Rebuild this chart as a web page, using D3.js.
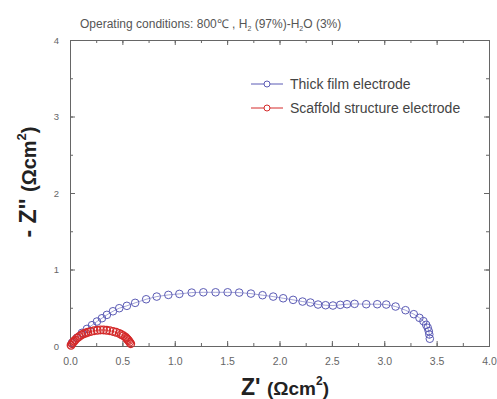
<!DOCTYPE html>
<html>
<head>
<meta charset="utf-8">
<script src="https://cdn.jsdelivr.net/npm/d3@7/dist/d3.min.js"></script>
<style>
  body { margin: 0; background: #fff; }
  text { font-family: "Liberation Sans", Arial, sans-serif; }
</style>
</head>
<body>
<div id="chart"></div>
<script>
const width = 497;
const height = 399;
const margins = { top: 40, right: 8, bottom: 53, left: 70 };

// Thick film electrode, Z' (Ωcm²)
const thickX = [0.019, 0.066, 0.114, 0.162, 0.21, 0.257, 0.305, 0.352, 0.41, 0.47, 0.543, 0.622, 0.727, 0.828, 0.939, 1.044, 1.162, 1.273, 1.39, 1.505, 1.615, 1.727, 1.838, 1.94, 2.035, 2.13, 2.22, 2.295, 2.368, 2.44, 2.51, 2.58, 2.644, 2.717, 2.828, 2.933, 3.019, 3.108, 3.203, 3.282, 3.336, 3.374, 3.40, 3.415, 3.425, 3.43, 3.435];
// Thick film electrode, -Z'' (Ωcm²)
const thickY = [0.042, 0.107, 0.172, 0.224, 0.272, 0.32, 0.363, 0.407, 0.454, 0.494, 0.525, 0.564, 0.611, 0.646, 0.668, 0.681, 0.698, 0.702, 0.702, 0.702, 0.698, 0.685, 0.664, 0.646, 0.624, 0.603, 0.581, 0.568, 0.542, 0.533, 0.529, 0.538, 0.546, 0.551, 0.546, 0.546, 0.542, 0.516, 0.468, 0.416, 0.368, 0.325, 0.277, 0.238, 0.194, 0.151, 0.095];

// Scaffold structure electrode
const scaffoldX = [0.01, 0.02, 0.03, 0.04, 0.05, 0.07, 0.09, 0.11, 0.13, 0.15, 0.17, 0.2, 0.23, 0.26, 0.29, 0.32, 0.35, 0.38, 0.41, 0.44, 0.47, 0.49, 0.51, 0.53, 0.54, 0.55, 0.56, 0.57, 0.58];
const scaffoldY = [0.01, 0.03, 0.05, 0.065, 0.08, 0.105, 0.125, 0.145, 0.16, 0.17, 0.18, 0.19, 0.2, 0.205, 0.21, 0.21, 0.205, 0.2, 0.19, 0.18, 0.165, 0.15, 0.135, 0.115, 0.1, 0.085, 0.07, 0.05, 0.03];

const xTicks = [0, 0.5, 1.0, 1.5, 2.0, 2.5, 3.0, 3.5, 4.0];
const xMinor = d3.range(0, 4.001, 0.25);
const yTicks = [0, 1, 2, 3, 4];
const yMinor = d3.range(0, 4.001, 0.5);

const seriesNames = ['Thick film electrode', 'Scaffold structure electrode'];
const colors = ['#5b5bb5', '#d42a2a'];

const series = [
  thickX.map((x, i) => ({ x: x, y: thickY[i] })),
  scaffoldX.map((x, i) => ({ x: x, y: scaffoldY[i] }))
];

const svg = d3.select('#chart')
  .append('svg')
  .attr('width', width)
  .attr('height', height);

const innerW = width - margins.left - margins.right;
const innerH = height - margins.top - margins.bottom;

const xScale = d3.scaleLinear().domain([0, 4]).range([0, innerW]);
const yScale = d3.scaleLinear().domain([0, 4]).range([innerH, 0]);

const plot = svg.append('g')
  .attr('transform', 'translate(' + margins.left + ',' + margins.top + ')');

// inward ticks on all four sides, Origin style
function tickAxis(axis, tx, ty) {
  const g = plot.append('g').attr('transform', 'translate(' + tx + ',' + ty + ')').call(axis);
  g.select('.domain').attr('stroke', '#666');
  g.selectAll('.tick line').attr('stroke', '#666');
  return g;
}

tickAxis(d3.axisBottom(xScale).tickValues(xMinor).tickSize(-3).tickFormat(''), 0, innerH);
tickAxis(d3.axisTop(xScale).tickValues(xMinor).tickSize(-3).tickFormat(''), 0, 0);
tickAxis(d3.axisLeft(yScale).tickValues(yMinor).tickSize(-3).tickFormat(''), 0, 0);
tickAxis(d3.axisRight(yScale).tickValues(yMinor).tickSize(-3).tickFormat(''), innerW, 0);

const xAxis = tickAxis(d3.axisBottom(xScale).tickValues(xTicks).tickSizeInner(-5).tickSizeOuter(0)
  .tickPadding(12).tickFormat(d3.format('.1f')), 0, innerH);
xAxis.selectAll('text').attr('font-size', 10.5).attr('fill', '#666');

const yAxis = tickAxis(d3.axisLeft(yScale).tickValues(yTicks).tickSizeInner(-5).tickSizeOuter(0)
  .tickPadding(11).tickFormat(d3.format('d')), 0, 0);
yAxis.selectAll('text').attr('font-size', 9.5).attr('fill', '#666');

tickAxis(d3.axisTop(xScale).tickValues(xTicks).tickSizeInner(-5).tickSizeOuter(0).tickFormat(''), 0, 0);
tickAxis(d3.axisRight(yScale).tickValues(yTicks).tickSizeInner(-5).tickSizeOuter(0).tickFormat(''), innerW, 0);

const line = d3.line().x(d => xScale(d.x)).y(d => yScale(d.y));

series.forEach((data, i) => {
  const g = plot.append('g').attr('class', 'series');
  g.append('path')
    .attr('d', line(data))
    .attr('fill', 'none')
    .attr('stroke', colors[i])
    .attr('stroke-width', 0.8)
    .attr('opacity', 0.7);
  g.selectAll('circle')
    .data(data)
    .enter()
    .append('circle')
    .attr('cx', d => xScale(d.x))
    .attr('cy', d => yScale(d.y))
    .attr('r', 3.8)
    .attr('fill', 'none')
    .attr('stroke', colors[i])
    .attr('stroke-width', i === 0 ? 1 : 1.3);
});

// legend
const legend = svg.append('g').attr('transform', 'translate(251,84)');
seriesNames.forEach((name, i) => {
  const row = legend.append('g').attr('transform', 'translate(0,' + (i * 24) + ')');
  row.append('line').attr('x1', 0).attr('x2', 32).attr('y1', 0).attr('y2', 0)
    .attr('stroke', colors[i]).attr('stroke-width', 1);
  row.append('circle').attr('cx', 16).attr('cy', 0).attr('r', 3)
    .attr('fill', '#fff').attr('stroke', colors[i]).attr('stroke-width', 1);
  row.append('text').attr('x', 39).attr('y', 5).attr('font-size', 14).attr('fill', '#444').text(name);
});

// title
const title = svg.append('text')
  .attr('x', 80).attr('y', 28)
  .attr('font-size', 12).attr('fill', '#555');
title.append('tspan').text('Operating conditions: 800\u2103 , H');
title.append('tspan').attr('font-size', 7).attr('dy', 3).text('2');
title.append('tspan').attr('dy', -3).text(' (97%)-H');
title.append('tspan').attr('font-size', 7).attr('dy', 3).text('2');
title.append('tspan').attr('dy', -3).text('O (3%)');

// x axis title
const xTitle = svg.append('text')
  .attr('x', 285).attr('y', 395)
  .attr('text-anchor', 'middle')
  .attr('font-weight', 'bold').attr('fill', '#222');
xTitle.append('tspan').attr('font-size', 23).text("Z' ");
xTitle.append('tspan').attr('font-size', 19).text('(\u03A9cm');
xTitle.append('tspan').attr('font-size', 12).attr('dy', -10).text('2');
xTitle.append('tspan').attr('font-size', 19).attr('dy', 10).text(')');

// y axis title
const yTitle = svg.append('text')
  .attr('transform', 'translate(36,182) rotate(-90)')
  .attr('text-anchor', 'middle')
  .attr('font-weight', 'bold').attr('fill', '#222');
yTitle.append('tspan').attr('font-size', 23).text("- Z'' ");
yTitle.append('tspan').attr('font-size', 20).text('(\u03A9cm');
yTitle.append('tspan').attr('font-size', 13).attr('dy', -10).text('2');
yTitle.append('tspan').attr('font-size', 20).attr('dy', 10).text(')');
</script>
</body>
</html>
